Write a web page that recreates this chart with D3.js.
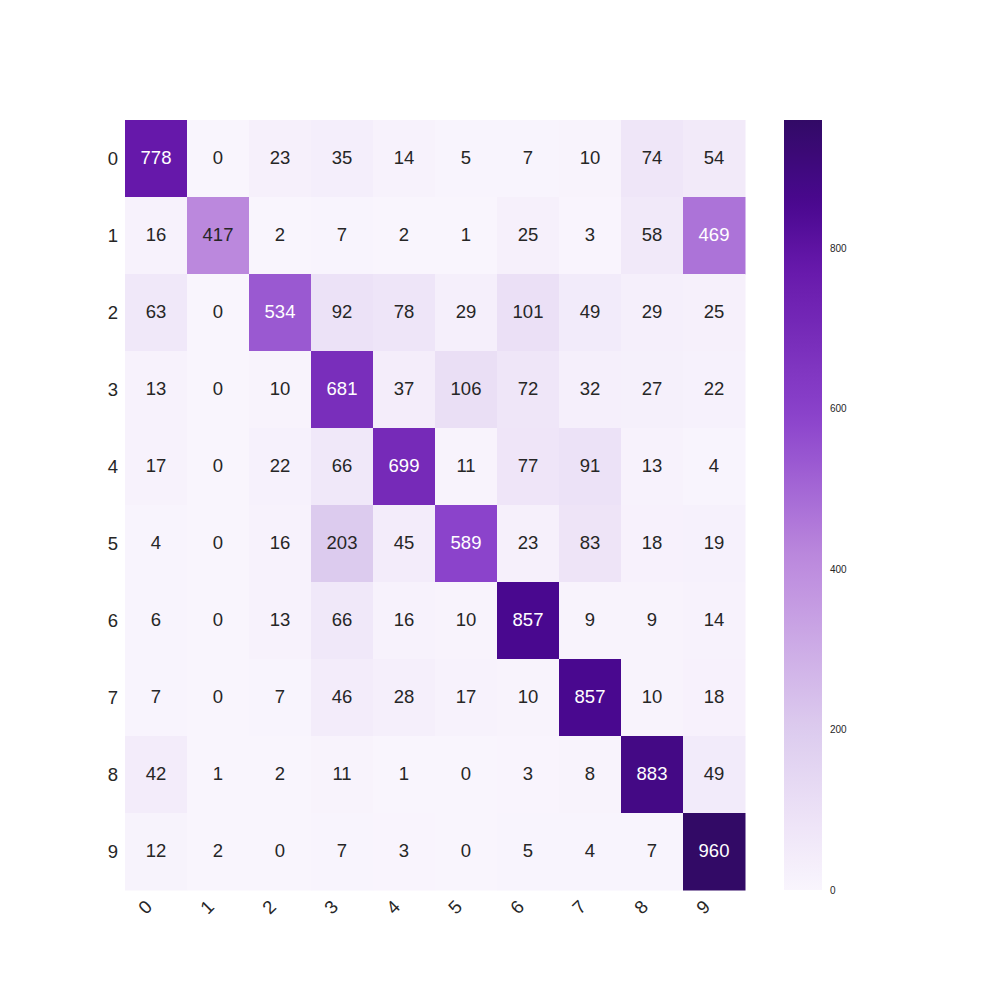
<!DOCTYPE html>
<html><head><meta charset="utf-8">
<script src="https://cdn.jsdelivr.net/npm/d3@7"></script>
<style>body{margin:0;background:#fff;} text{font-family:"Liberation Sans",Arial,sans-serif;}</style>
</head><body><svg id="c" width="1000" height="1000"></svg>
<script>
const rowLabels = ["0","1","2","3","4","5","6","7","8","9"];
const colLabels = ["0","1","2","3","4","5","6","7","8","9"];
const matrix = [
  [778,0,23,35,14,5,7,10,74,54],
  [16,417,2,7,2,1,25,3,58,469],
  [63,0,534,92,78,29,101,49,29,25],
  [13,0,10,681,37,106,72,32,27,22],
  [17,0,22,66,699,11,77,91,13,4],
  [4,0,16,203,45,589,23,83,18,19],
  [6,0,13,66,16,10,857,9,9,14],
  [7,0,7,46,28,17,10,857,10,18],
  [42,1,2,11,1,0,3,8,883,49],
  [12,2,0,7,3,0,5,4,7,960]
];
const cbTicks = [0,200,400,600,800];
const paletteStops = [0,0.077,0.21,0.434,0.61,0.81,0.89,1.0];
const paletteColors = ["#f9f5fd","#efe6f8","#dccbee","#bb88dd","#8c44cc","#6618aa","#4a0890","#320a66"];

const svg = d3.select("#c");
const mLeft=125, mTop=120, W=620, H=770;
const x = d3.scaleBand().domain(colLabels).range([mLeft,mLeft+W]);
const y = d3.scaleBand().domain(rowLabels).range([mTop,mTop+H]);
const vmax = d3.max(matrix.flat());
const color = d3.scaleLinear().domain(paletteStops.map(t=>t*vmax)).range(paletteColors).clamp(true);

const cells=[];
matrix.forEach((row,i)=>row.forEach((v,j)=>cells.push({r:rowLabels[i],c:colLabels[j],v})));

svg.append("g").selectAll("rect").data(cells).join("rect")
  .attr("x",d=>x(d.c)).attr("y",d=>y(d.r))
  .attr("width",x.bandwidth()+0.5).attr("height",y.bandwidth()+0.5)
  .attr("fill",d=>color(d.v));

svg.append("g").selectAll("text").data(cells).join("text")
  .attr("x",d=>x(d.c)+x.bandwidth()/2).attr("y",d=>y(d.r)+y.bandwidth()/2-1.5)
  .attr("text-anchor","middle").attr("dominant-baseline","central")
  .attr("font-size",18.5)
  .attr("fill",d=>d.v>vmax*0.46?"#ffffff":"#262626")
  .text(d=>d.v);

svg.append("g").selectAll("text").data(rowLabels).join("text")
  .attr("x",118).attr("y",d=>y(d)+y.bandwidth()/2)
  .attr("text-anchor","end").attr("dominant-baseline","central")
  .attr("font-size",18.5).attr("fill","#262626").text(d=>d);

svg.append("g").selectAll("text").data(colLabels).join("text")
  .attr("transform",d=>`translate(${x(d)+x.bandwidth()/2-11},${907}) rotate(-45)`)
  .attr("text-anchor","middle").attr("dominant-baseline","central")
  .attr("font-size",18.5).attr("fill","#262626").text(d=>d);

const cbX=784, cbW=38;
const cy = d3.scaleLinear().domain([0,vmax]).range([mTop+H,mTop]);
const defs=svg.append("defs");
const grad=defs.append("linearGradient").attr("id","g").attr("x1",0).attr("y1",1).attr("x2",0).attr("y2",0);
d3.range(0,1.0001,0.02).forEach(t=>grad.append("stop").attr("offset",t).attr("stop-color",color(t*vmax)));
svg.append("rect").attr("x",cbX).attr("y",mTop).attr("width",cbW).attr("height",H).attr("fill","url(#g)");
svg.append("g").selectAll("text").data(cbTicks).join("text")
  .attr("x",830).attr("y",d=>cy(d)).attr("dominant-baseline","central")
  .attr("font-size",10).attr("fill","#262626").text(d=>d);
</script></body></html>
